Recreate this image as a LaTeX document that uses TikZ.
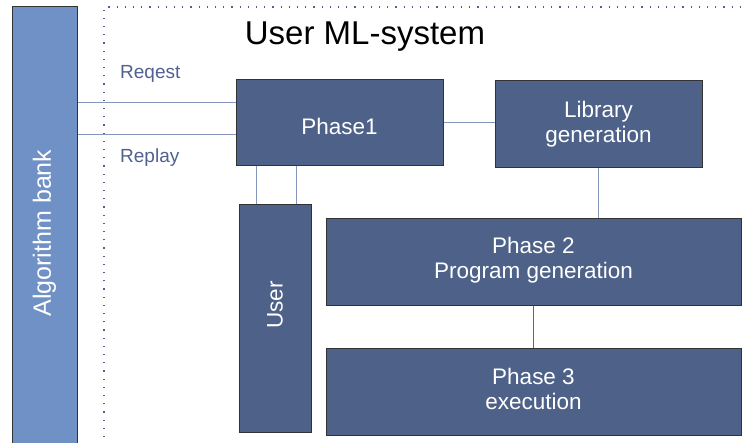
\documentclass[tikz,border=0pt]{standalone}
\usepackage{fontspec}
\setmainfont{Liberation Sans}
\definecolor{boxblue}{HTML}{4E6189}
\definecolor{bankblue}{HTML}{7091C6}
\definecolor{linkblue}{HTML}{8497BA}
\definecolor{labelblue}{HTML}{4F6190}

\begin{document}
\begin{tikzpicture}[x=1pt,y=-1pt,
    phase/.style={draw=black!80, line width=1pt, fill=boxblue, text=white,
        font=\fontsize{22.5}{25}\selectfont, align=center, inner sep=0pt},
    link/.style={draw=linkblue, line width=1pt},
    lbl/.style={text=labelblue, font=\fontsize{19}{22}\selectfont, anchor=west, inner sep=0pt}]
    \useasboundingbox (0,0) rectangle (745,443);
    \clip (0,0) rectangle (745,443);

    % dotted system frame
    \draw[labelblue, line width=1.2pt, dash pattern=on 1.2pt off 7pt] (104,470) -- (104,7) -- (760,7);
    \node (title) at (365,37) {\fontsize{33}{36}\selectfont User ML-system};

    % algorithm bank
    \node[phase, fill=bankblue, minimum width=65, minimum height=452] (bank) at (44.5,233) {};
    \node[rotate=90, text=white, font=\fontsize{25}{28}\selectfont] (banktext) at (bank) {Algorithm bank};

    % phases
    \node[phase, minimum width=207, minimum height=86, text height=24pt, text depth=0pt] (phase1) at (339.5,123) {Phase1};
    \node[phase, minimum width=207, minimum height=87] (library) at (598.5,124.5) {Library\\generation};
    \node[phase, minimum width=72, minimum height=228] (user) at (275,319) {};
    \node[rotate=90, text=white, font=\fontsize{22.5}{25}\selectfont] (usertext) at ([yshift=14pt]user.center) {User};
    \node[phase, minimum width=415, minimum height=87, text depth=10pt] (phase2) at (533.5,262.5) {Phase 2\\Program generation};
    \node[phase, minimum width=415, minimum height=87, text depth=7pt] (phase3) at (533.5,392.5) {Phase 3\\execution};

    % connections
    \draw[link] ([yshift=20pt]phase1.west) -- ([yshift=20pt]phase1.west -| bank.east);
    \draw[link] ([yshift=-12pt]phase1.west) -- ([yshift=-12pt]phase1.west -| bank.east);
    \node[lbl] (request) at (120,74) {Reqest};
    \node[lbl] (replay) at (120,158) {Replay};
    \draw[link] (phase1.east) -- (phase1.east -| library.west);
    \draw[link] ([xshift=-19pt]user.north) -- ([xshift=-19pt]user.north |- phase1.south);
    \draw[link] ([xshift=21pt]user.north) -- ([xshift=21pt]user.north |- phase1.south);
    \draw[link] (library.south) -- (library.south |- phase2.north);
    \draw[draw=black!60, line width=1.2pt] (phase2.south) -- (phase3.north);
\end{tikzpicture}
\end{document}
